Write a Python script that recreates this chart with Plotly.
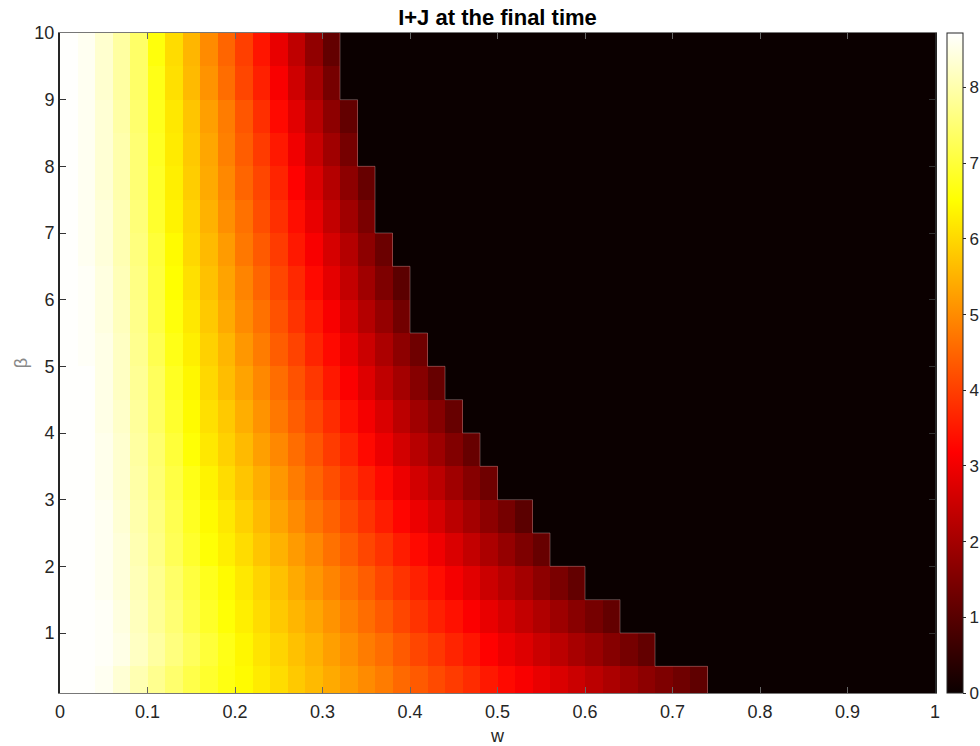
import numpy as np
import plotly.graph_objects as go

# w cell edges (0 to 1, step 0.02) and beta band edges
w_edges = [round(0.02 * i, 2) for i in range(51)]
beta_edges = [0.1, 0.5, 1.0, 1.5, 2.0, 2.5, 3.0, 3.5, 4.0, 4.5, 5.0,
              5.5, 6.0, 6.5, 7.0, 7.5, 8.0, 8.5, 9.0, 9.5, 10.0]

# I+J at the final time, one list per beta band (bottom to top), read along w;
# cells beyond each list are the black (zero) region
row_b0 = [8.7, 8.7, 8.6, 8.35, 8.05, 7.75, 7.45, 7.15, 6.9, 6.65, 6.45, 6.25, 6.05, 5.8, 5.6, 5.4, 5.2, 5.0, 4.8, 4.55, 4.35, 4.15, 3.95, 3.75, 3.5, 3.3, 3.1, 2.9, 2.7, 2.5, 2.3, 2.1, 1.9, 1.7, 1.5, 1.3, 1.1]
row_b1 = [8.7, 8.7, 8.65, 8.5, 8.2, 7.9, 7.6, 7.3, 7.0, 6.7, 6.4, 6.15, 5.95, 5.7, 5.5, 5.25, 5.05, 4.8, 4.6, 4.35, 4.1, 3.9, 3.65, 3.45, 3.2, 2.95, 2.75, 2.5, 2.3, 2.05, 1.85, 1.6, 1.4, 1.15]
row_b2 = [8.7, 8.7, 8.65, 8.45, 8.15, 7.8, 7.5, 7.15, 6.85, 6.55, 6.3, 6.05, 5.8, 5.55, 5.35, 5.1, 4.85, 4.6, 4.35, 4.1, 3.85, 3.6, 3.4, 3.15, 2.9, 2.65, 2.4, 2.15, 1.9, 1.65, 1.4, 1.15]
row_b3 = [8.7, 8.7, 8.6, 8.4, 8.1, 7.75, 7.4, 7.05, 6.75, 6.45, 6.2, 5.95, 5.7, 5.4, 5.15, 4.9, 4.65, 4.4, 4.1, 3.85, 3.6, 3.35, 3.05, 2.8, 2.5, 2.25, 2.0, 1.7, 1.45, 1.15]
row_b4 = [8.7, 8.7, 8.6, 8.4, 8.05, 7.65, 7.25, 6.9, 6.55, 6.3, 6.05, 5.75, 5.5, 5.2, 4.95, 4.65, 4.4, 4.1, 3.85, 3.55, 3.3, 3.0, 2.7, 2.4, 2.1, 1.8, 1.5, 1.2]
row_b5 = [8.7, 8.7, 8.6, 8.35, 8.0, 7.6, 7.2, 6.8, 6.45, 6.2, 5.9, 5.6, 5.3, 5.0, 4.7, 4.45, 4.15, 3.85, 3.55, 3.25, 2.95, 2.65, 2.3, 2.0, 1.7, 1.4, 1.05]
row_b6 = [8.7, 8.7, 8.55, 8.3, 7.95, 7.5, 7.1, 6.7, 6.35, 6.05, 5.75, 5.45, 5.15, 4.8, 4.5, 4.2, 3.9, 3.6, 3.3, 2.95, 2.6, 2.3, 1.95, 1.6, 1.3]
row_b7 = [8.7, 8.7, 8.55, 8.3, 7.9, 7.45, 7.0, 6.55, 6.2, 5.9, 5.6, 5.25, 4.95, 4.6, 4.3, 3.95, 3.65, 3.3, 2.95, 2.6, 2.25, 1.9, 1.55, 1.2]
row_b8 = [8.7, 8.7, 8.5, 8.25, 7.85, 7.35, 6.9, 6.45, 6.1, 5.8, 5.45, 5.1, 4.75, 4.4, 4.1, 3.75, 3.4, 3.05, 2.7, 2.3, 1.95, 1.6, 1.2]
row_b9 = [8.7, 8.7, 8.5, 8.2, 7.8, 7.3, 6.8, 6.4, 6.0, 5.65, 5.3, 4.95, 4.6, 4.25, 3.9, 3.5, 3.15, 2.75, 2.35, 2.0, 1.6, 1.2]
row_b10 = [8.7, 8.65, 8.5, 8.2, 7.75, 7.2, 6.7, 6.3, 5.9, 5.55, 5.15, 4.8, 4.4, 4.05, 3.65, 3.3, 2.9, 2.5, 2.1, 1.7, 1.3]
row_b11 = [8.7, 8.65, 8.45, 8.15, 7.7, 7.1, 6.6, 6.2, 5.8, 5.4, 5.0, 4.65, 4.25, 3.85, 3.5, 3.1, 2.65, 2.2, 1.8, 1.35]
row_b12 = [8.7, 8.65, 8.45, 8.1, 7.65, 7.05, 6.5, 6.1, 5.7, 5.3, 4.9, 4.5, 4.1, 3.7, 3.3, 2.85, 2.4, 1.95, 1.5, 1.05]
row_b13 = [8.7, 8.6, 8.4, 8.05, 7.6, 7.0, 6.45, 6.0, 5.6, 5.2, 4.75, 4.35, 3.95, 3.5, 3.1, 2.65, 2.2, 1.7, 1.25]
row_b14 = [8.7, 8.6, 8.4, 8.05, 7.55, 6.9, 6.35, 5.95, 5.5, 5.05, 4.65, 4.2, 3.8, 3.35, 2.9, 2.4, 1.95, 1.45]
row_b15 = [8.7, 8.6, 8.35, 8.0, 7.5, 6.85, 6.3, 5.85, 5.4, 4.95, 4.5, 4.1, 3.65, 3.2, 2.7, 2.2, 1.7, 1.2]
row_b16 = [8.7, 8.6, 8.35, 8.0, 7.5, 6.8, 6.25, 5.8, 5.35, 4.85, 4.4, 3.95, 3.5, 3.0, 2.45, 1.95, 1.4]
row_b17 = [8.7, 8.6, 8.35, 7.95, 7.45, 6.75, 6.2, 5.75, 5.25, 4.8, 4.3, 3.8, 3.3, 2.8, 2.25, 1.7, 1.15]
row_b18 = [8.7, 8.6, 8.3, 7.9, 7.4, 6.7, 6.1, 5.6, 5.1, 4.6, 4.1, 3.6, 3.1, 2.55, 2.0, 1.4]
row_b19 = [8.7, 8.6, 8.3, 7.9, 7.4, 6.6, 6.05, 5.55, 5.0, 4.5, 4.0, 3.45, 2.9, 2.35, 1.75, 1.15]

rows = [row_b0, row_b1, row_b2, row_b3, row_b4, row_b5, row_b6, row_b7, row_b8, row_b9,
        row_b10, row_b11, row_b12, row_b13, row_b14, row_b15, row_b16, row_b17, row_b18, row_b19]

ncol = len(w_edges) - 1
Z = [r + [0.0] * (ncol - len(r)) for r in rows]

x_ticks = [0, 0.1, 0.2, 0.3, 0.4, 0.5, 0.6, 0.7, 0.8, 0.9, 1]
x_labels = ["0", "0.1", "0.2", "0.3", "0.4", "0.5", "0.6", "0.7", "0.8", "0.9", "1"]
y_ticks = [1, 2, 3, 4, 5, 6, 7, 8, 9, 10]
cb_ticks = [0, 1, 2, 3, 4, 5, 6, 7, 8]

hot = [[0.0, "rgb(11,0,0)"], [0.365, "rgb(255,0,0)"],
       [0.746, "rgb(255,255,0)"], [1.0, "rgb(255,255,255)"]]

FONT = "Liberation Sans, Arial, Helvetica"

# staircase along the edge of the nonzero region (from the rows above)
sx, sy = [], []
for i, r in enumerate(rows):
    wb = w_edges[len(r)]
    sx += [wb, wb]
    sy += [beta_edges[i], beta_edges[i + 1]]

fig = go.Figure()
fig.add_trace(go.Heatmap(
    x=w_edges, y=beta_edges, z=Z, colorscale=hot, zmin=0, zmax=8.72,
    showscale=True,
    colorbar=dict(
        x=1.0137, xanchor="left", xpad=0, y=0.5, yanchor="middle",
        len=660, lenmode="pixels", thickness=16, thicknessmode="pixels",
        ypad=0, outlinewidth=1, outlinecolor="#262626",
        tickmode="array", tickvals=cb_ticks, ticks="outside", ticklen=3,
        tickcolor="#262626",
        tickfont=dict(family=FONT, size=17, color="#262626"),
    ),
    hoverinfo="skip",
))
fig.add_trace(go.Scatter(
    x=sx, y=sy, mode="lines",
    line=dict(color="rgba(200,160,160,0.4)", width=1),
    showlegend=False, hoverinfo="skip",
))

fig.update_layout(
    width=980, height=746,
    margin=dict(l=60, r=45, t=33, b=53, autoexpand=False),
    paper_bgcolor="white", plot_bgcolor="white",
    font=dict(family=FONT, size=18, color="#262626"),
    title=dict(text="<b>I+J at the final time</b>", xref="paper", x=0.5, xanchor="center",
               y=0.977, yanchor="middle",
               font=dict(family=FONT, size=22, color="black")),
    showlegend=False,
)
fig.update_xaxes(
    range=[0, 1], tickmode="array", tickvals=x_ticks, ticktext=x_labels,
    ticks="inside", ticklen=6, tickcolor="#666", mirror="ticks",
    showline=True, linecolor="#777", linewidth=1, showgrid=False, zeroline=False,
    ticklabelstandoff=2,
    title=dict(text="w", standoff=8, font=dict(family=FONT, size=18, color="#262626")),
    tickfont=dict(family=FONT, size=18, color="#262626"),
)
fig.update_yaxes(
    range=[0.1, 10], tickmode="array", tickvals=y_ticks,
    ticks="inside", ticklen=6, tickcolor="#333", mirror="ticks",
    showline=True, linecolor="#262626", linewidth=2, showgrid=False, zeroline=False,
    title=dict(text="β", standoff=2, font=dict(family=FONT, size=18, color="#888")),
    tickfont=dict(family=FONT, size=18, color="#262626"),
)

fig.write_html("out.html")
